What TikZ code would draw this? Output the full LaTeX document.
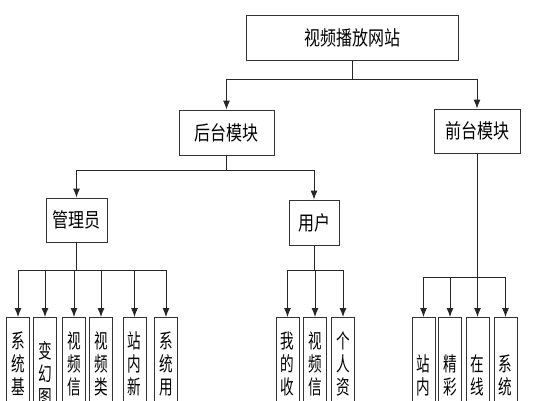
\documentclass[tikz,border=0pt]{standalone}
\usepackage{fontspec}
\newfontfamily\cjk[FakeStretch=0.8]{Noto Sans CJK SC}
\newfontfamily\cjkleaf[FakeStretch=0.68]{Noto Sans CJK SC}
\usetikzlibrary{arrows.meta}

\begin{document}
\begin{tikzpicture}[
    x=1pt, y=1pt,
    box/.style={rectangle, draw=black!80, line width=0.9pt, fill=white,
        inner sep=0pt, font=\cjk\fontsize{20pt}{24pt}\selectfont},
    leaf/.style={rectangle, draw=black!80, line width=0.9pt, fill=white,
        anchor=north, minimum width=23pt, inner xsep=0pt, inner ysep=#1,
        align=center, font=\cjkleaf\fontsize{20pt}{23pt}\selectfont},
    leaf/.default=14pt,
    edge/.style={draw=black!85, line width=0.9pt,
        -{Latex[length=9pt,width=7pt]}}
]
    \useasboundingbox (0,0) rectangle (554,400);
    \node[box, minimum width=212pt, minimum height=45pt] (site) at (352,362.5) {视频播放网站};
    \node[box, minimum width=95pt, minimum height=45pt] (back) at (226.5,267.5) {后台模块};
    \node[box, minimum width=86pt, minimum height=44pt] (front) at (477,269) {前台模块};
    \node[box, minimum width=61pt, minimum height=44pt] (admin) at (76.5,180) {管理员};
    \node[box, minimum width=50pt, minimum height=45pt] (user) at (314,177.5) {用户};
    % admin leaves
    \node[leaf] (a1) at (18,83) {系\\统\\基};
    \node[leaf=24pt] (a2) at (45,83) {变\\幻\\图};
    \node[leaf] (a3) at (74,83) {视\\频\\信};
    \node[leaf] (a4) at (101,83) {视\\频\\类};
    \node[leaf] (a5) at (134.5,83) {站\\内\\新};
    \node[leaf] (a6) at (166,83) {系\\统\\用};
    % user leaves
    \node[leaf] (u1) at (287.5,83) {我\\的\\收};
    \node[leaf] (u2) at (315,83) {视\\频\\信};
    \node[leaf] (u3) at (343,83) {个\\人\\资};
    % front leaves
    \node[leaf=37pt] (f1) at (423.5,83) {站\\内};
    \node[leaf=37pt] (f2) at (450,83) {精\\彩};
    \node[leaf=37pt] (f3) at (477.5,83) {在\\线};
    \node[leaf=37pt] (f4) at (505.5,83) {系\\统};
    \draw[edge] (site.south) -- ++(0,-19) -| (back.north);
    \draw[edge] (site.south) -- ++(0,-19) -| (front.north);
    \draw[edge] (back.south) -- ++(0,-15) -| (admin.north);
    \draw[edge] (back.south) -- ++(0,-15) -| (user.north);
    \draw[edge] (admin.south) -- ++(0,-28) -| (a1.north);
    \draw[edge] (admin.south) -- ++(0,-28) -| (a2.north);
    \draw[edge] (admin.south) -- ++(0,-28) -| (a3.north);
    \draw[edge] (admin.south) -- ++(0,-28) -| (a4.north);
    \draw[edge] (admin.south) -- ++(0,-28) -| (a5.north);
    \draw[edge] (admin.south) -- ++(0,-28) -| (a6.north);
    \draw[edge] (user.south) -- ++(0,-25) -| (u1.north);
    \draw[edge] (user.south) -- ++(0,-25) -| (u2.north);
    \draw[edge] (user.south) -- ++(0,-25) -| (u3.north);
    \draw[edge] (front.south) -- ++(0,-124) -| (f1.north);
    \draw[edge] (front.south) -- ++(0,-124) -| (f2.north);
    \draw[edge] (front.south) -- ++(0,-124) -| (f3.north);
    \draw[edge] (front.south) -- ++(0,-124) -| (f4.north);
\end{tikzpicture}
\end{document}
